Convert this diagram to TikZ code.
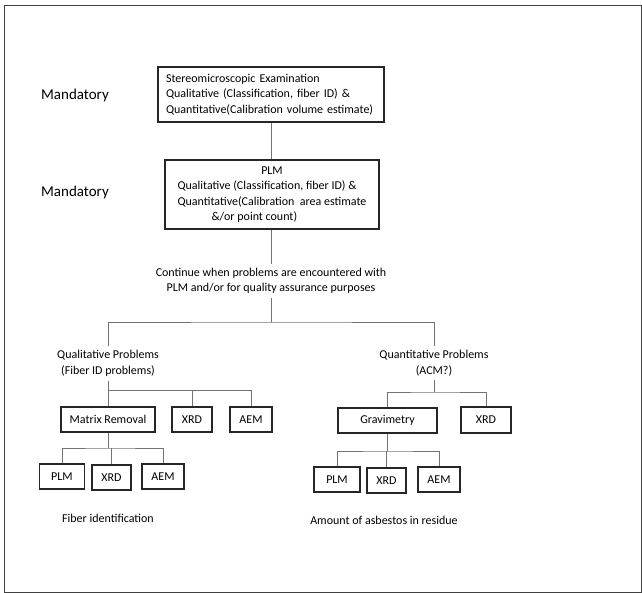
\documentclass[tikz,border=0pt]{standalone}
\usepackage{fontspec}
\setmainfont{Carlito}
\begin{document}
\begin{tikzpicture}[x=1pt,y=-1pt,
 box/.style={draw=black!85,line width=1.3pt,inner sep=0pt,minimum height=25pt,font=\fontsize{12}{15.5}\selectfont},
 conn/.style={draw=black!55,line width=0.9pt},
 txt/.style={inner xsep=0pt,inner ysep=4pt,align=center,font=\fontsize{12}{15.5}\selectfont},
 side/.style={inner sep=0pt,font=\fontsize{15}{16}\selectfont}]
\path[use as bounding box] (0,0) rectangle (642,593);
\draw[black!75,line width=1pt] (4,6) rectangle (641,592);
\node[side] (m1) at (75,96) {Mandatory};
\node[side] (m2) at (75,193) {Mandatory};
\node[box, minimum width=226pt, minimum height=55pt, align=left, text width=210pt] (s1) at (271,94.5)
 {Stereomicroscopic Examination\\Qualitative (Classification, fiber ID) \&\\Quantitative(Calibration volume estimate)};
\node[box, minimum width=214pt, minimum height=69pt] (s2) at (272,194.5)
 {\begin{tabular}{@{}l@{}}\multicolumn{1}{@{}c@{}}{PLM}\\Qualitative (Classification, fiber ID) \&\\Quantitative(Calibration\ \ area estimate\\\hspace{34pt}\&/or point count)\end{tabular}};
\node[txt] (c) at (271,281) {Continue when problems are encountered with\\PLM and/or for quality assurance purposes};
\node[txt] (qp) at (108,363.5) {Qualitative Problems\\(Fiber ID problems)};
\node[txt] (qn) at (434,363) {Quantitative Problems\\(ACM?)};
% left subtree
\node[box, minimum width=94pt] (mr) at (108,419.5) {Matrix Removal};
\node[box, minimum width=40pt] (x1) at (192,419.5) {XRD};
\node[box, minimum width=42pt] (a1) at (251,419.5) {AEM};
\node[box, minimum width=45pt] (p2) at (62,476.5) {PLM};
\node[box, minimum width=39pt] (x2) at (111.5,477.5) {XRD};
\node[box, minimum width=42pt] (a2) at (163,476.5) {AEM};
\node[txt] (fi) at (108,518) {Fiber identification};
% right subtree
\node[box, minimum width=99pt] (gr) at (387.5,420.5) {Gravimetry};
\node[box, minimum width=50pt, minimum height=26pt] (x3) at (486,420) {XRD};
\node[box, minimum width=46pt] (p3) at (337,479.5) {PLM};
\node[box, minimum width=39pt] (x4) at (386.5,480.5) {XRD};
\node[box, minimum width=42pt] (a3) at (439,479.5) {AEM};
\node[txt] (am) at (384,520) {Amount of asbestos in residue};
% connectors
\coordinate (j1) at (271,322);
\coordinate (j2) at (108,390);
\coordinate (j3) at (108,448);
\coordinate (j4) at (434,392);
\coordinate (j5) at (387.5,451);
\draw[conn] (s1.south) -- (s1.south |- s2.north);
\draw[conn] (s2.south -| s1.south) -- (c.north -| s1.south);
\draw[conn] (c.south) -- (j1);
\draw[conn] (qp.north) |- (j1) -| (qn.north);
\draw[conn] (qp.south) -- (j2);
\draw[conn] (mr.north) |- (j2) -| (a1.north);
\draw[conn] (x1.north) -- (x1.north |- j2);
\draw[conn] (mr.south) -- (j3);
\draw[conn] (p2.north) |- (j3) -| (a2.north);
\draw[conn] (x2.north) -- (x2.north |- j3);
\draw[conn] (qn.south) -- (j4);
\draw[conn] (gr.north) |- (j4) -| (x3.north);
\draw[conn] (gr.south) -- (j5);
\draw[conn] (p3.north) |- (j5) -| (a3.north);
\draw[conn] (x4.north) -- (x4.north |- j5);
\end{tikzpicture}
\end{document}
